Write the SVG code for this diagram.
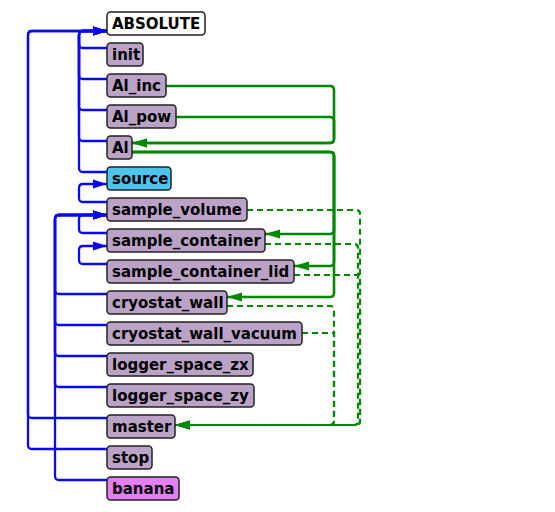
<svg xmlns="http://www.w3.org/2000/svg" width="555" height="512" viewBox="0 0 555 512">
<style>
.n rect{fill:#bba3c8;stroke:#222;stroke-width:1.5}
.n text{font-family:"DejaVu Sans","Liberation Sans",sans-serif;font-weight:bold;font-size:15px;fill:#000}
.b{fill:none;stroke:#0a0aee;stroke-width:2.3}
.g{fill:none;stroke:#008800;stroke-width:2.6}
.gd{fill:none;stroke:#008800;stroke-width:2.2;stroke-dasharray:6 4}
</style>
<defs>
<marker id="ab" markerUnits="userSpaceOnUse" markerWidth="15" markerHeight="10" refX="14" refY="5" orient="auto"><path d="M0,0.5 L14,5 L0,9.5 Z" fill="#0a0aee"/></marker>
<marker id="ag" markerUnits="userSpaceOnUse" markerWidth="16" markerHeight="10" refX="15" refY="5" orient="auto"><path d="M0,0.5 L15,5 L0,9.5 Z" fill="#008800"/></marker>
</defs>
<rect width="555" height="512" fill="#fff"/>
<g id="connectors">
<path class="b" d="M107,449 H32 Q28,449 28,445 V35 Q28,31 32,31 H107" marker-end="url(#ab)"/>
<path class="b" d="M107,418 H32 Q28,418 28,414 V35 Q28,31 32,31 H107" marker-end="url(#ab)"/>
<path class="b" d="M107,48 H83 Q79,48 79,44 V35 Q79,31 83,31 H107" marker-end="url(#ab)"/>
<path class="b" d="M107,79 H83 Q79,79 79,75 V35 Q79,31 83,31 H107" marker-end="url(#ab)"/>
<path class="b" d="M107,110 H83 Q79,110 79,106 V35 Q79,31 83,31 H107" marker-end="url(#ab)"/>
<path class="b" d="M107,141 H83 Q79,141 79,137 V35 Q79,31 83,31 H107" marker-end="url(#ab)"/>
<path class="b" d="M107,172 H83 Q79,172 79,168 V35 Q79,31 83,31 H107" marker-end="url(#ab)"/>
<path class="b" d="M107,202 H83 Q79,202 79,198 V188 Q79,184 83,184 H107" marker-end="url(#ab)"/>
<path class="b" d="M107,233 H83 Q79,233 79,229 V219 Q79,215 83,215 H107" marker-end="url(#ab)"/>
<path class="b" d="M107,264 H83 Q79,264 79,260 V250 Q79,246 83,246 H107" marker-end="url(#ab)"/>
<path class="b" d="M107,294 H59 Q55,294 55,290 V219 Q55,215 59,215 H107" marker-end="url(#ab)"/>
<path class="b" d="M107,325 H59 Q55,325 55,321 V219 Q55,215 59,215 H107" marker-end="url(#ab)"/>
<path class="b" d="M107,356 H59 Q55,356 55,352 V219 Q55,215 59,215 H107" marker-end="url(#ab)"/>
<path class="b" d="M107,387 H59 Q55,387 55,383 V219 Q55,215 59,215 H107" marker-end="url(#ab)"/>
<path class="b" d="M107,480 H59 Q55,480 55,476 V219 Q55,215 59,215 H107" marker-end="url(#ab)"/>
<path class="g" d="M166,86 H330 Q334,86 334,90 V139 Q334,143 330,143 H132" marker-end="url(#ag)"/>
<path class="g" d="M176,117 H330 Q334,117 334,121 V139 Q334,143 330,143 H132" marker-end="url(#ag)"/>
<path class="g" d="M132,152 H330 Q334,152 334,156 V230 Q334,234 330,234 H265" marker-end="url(#ag)"/>
<path class="g" d="M132,152 H330 Q334,152 334,156 V262 Q334,266 330,266 H294" marker-end="url(#ag)"/>
<path class="g" d="M132,152 H330 Q334,152 334,156 V293 Q334,297 330,297 H227" marker-end="url(#ag)"/>
<path class="gd" d="M247,210 H356 Q360,210 360,214 V421 Q360,425 356,425 H175" marker-end="url(#ag)"/>
<path class="gd" d="M265,244 H354 Q358,244 358,248 V421 Q358,425 354,425 H175" marker-end="url(#ag)"/>
<path class="gd" d="M294,275 H360 V421 Q360,425 356,425 H175" marker-end="url(#ag)"/>
<path class="gd" d="M227,306 H330 Q334,306 334,310 V421 Q334,425 330,425 H175" marker-end="url(#ag)"/>
<path class="gd" d="M302,333 H334 V421 Q334,425 330,425 H175" marker-end="url(#ag)"/>
</g>
<g id="ABSOLUTE" class="n"><rect x="107" y="12" width="98" height="23" rx="3.5" style="fill:#fff"/><text x="112" y="29">ABSOLUTE</text></g>
<g id="init" class="n"><rect x="107" y="43" width="36" height="23" rx="3.5"/><text x="112" y="60">init</text></g>
<g id="Al_inc" class="n"><rect x="107" y="74" width="59" height="23" rx="3.5"/><text x="112" y="91">Al_inc</text></g>
<g id="Al_pow" class="n"><rect x="107" y="105" width="69" height="23" rx="3.5"/><text x="112" y="122">Al_pow</text></g>
<g id="Al" class="n"><rect x="107" y="136" width="25" height="23" rx="3.5"/><text x="112" y="153">Al</text></g>
<g id="source" class="n"><rect x="107" y="167" width="64" height="23" rx="3.5" style="fill:#4ec4ec"/><text x="112" y="184">source</text></g>
<g id="sample_volume" class="n"><rect x="107" y="198" width="140" height="23" rx="3.5"/><text x="112" y="215">sample_volume</text></g>
<g id="sample_container" class="n"><rect x="107" y="229" width="158" height="23" rx="3.5"/><text x="112" y="246">sample_container</text></g>
<g id="sample_container_lid" class="n"><rect x="107" y="260" width="187" height="23" rx="3.5"/><text x="112" y="277">sample_container_lid</text></g>
<g id="cryostat_wall" class="n"><rect x="107" y="291" width="120" height="23" rx="3.5"/><text x="112" y="308">cryostat_wall</text></g>
<g id="cryostat_wall_vacuum" class="n"><rect x="107" y="322" width="195" height="23" rx="3.5"/><text x="112" y="339">cryostat_wall_vacuum</text></g>
<g id="logger_space_zx" class="n"><rect x="107" y="353" width="146" height="23" rx="3.5"/><text x="112" y="370">logger_space_zx</text></g>
<g id="logger_space_zy" class="n"><rect x="107" y="384" width="147" height="23" rx="3.5"/><text x="112" y="401">logger_space_zy</text></g>
<g id="master" class="n"><rect x="107" y="415" width="68" height="23" rx="3.5"/><text x="112" y="432">master</text></g>
<g id="stop" class="n"><rect x="107" y="446" width="45" height="23" rx="3.5"/><text x="112" y="463">stop</text></g>
<g id="banana" class="n"><rect x="107" y="477" width="72" height="23" rx="3.5" style="fill:#e27ff2"/><text x="112" y="494">banana</text></g>
</svg>
